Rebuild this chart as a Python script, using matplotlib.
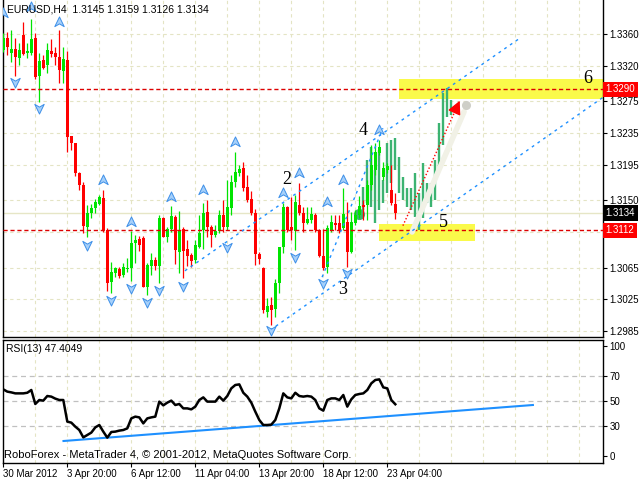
import matplotlib
matplotlib.use("Agg")
import matplotlib.pyplot as plt
import numpy as np
from matplotlib.path import Path
from matplotlib.patches import Rectangle
from matplotlib.transforms import blended_transform_factory

# ---------------- data ----------------
opens = [1.3340,1.3355,1.3336,1.3341,1.3330,1.3359,1.3336,1.3336,1.3355,1.3307,
         1.3327,1.3321,1.3339,1.3336,1.3331,1.3313,1.3327,1.3231,1.3222,1.3185,
         1.3169,1.3116,1.3134,1.3140,1.3145,1.3153,1.3113,1.3047,1.3058,1.3063,
         1.3056,1.3063,1.3065,1.3096,1.3101,1.3102,1.3041,1.3067,1.3075,1.3067,
         1.3128,1.3104,1.3114,1.3129,1.3085,1.3114,1.3089,1.3081,1.3075,1.3091,
         1.3113,1.3135,1.3116,1.3106,1.3111,1.3131,1.3116,1.3140,1.3173,1.3185,
         1.3191,1.3167,1.3152,1.3134,1.3082,1.3065,1.3009,1.3018,1.3013,1.3046,
         1.3091,1.3142,1.3116,1.3111,1.3144,1.3134,1.3121,1.3125,1.3131,1.3113,
         1.3080,1.3066,1.3111,1.3121,1.3121,1.3115,1.3123,1.3085,1.3121,1.3131,
         1.3144,1.3144,1.3169,1.3188,1.3210,1.3179,1.3188,1.3163,1.3145]
highs = [1.3361,1.3363,1.3365,1.3355,1.3349,1.3375,1.3349,1.3379,1.3361,1.3336,
         1.3334,1.3349,1.3354,1.3344,1.3365,1.3344,1.3339,1.3231,1.3222,1.3186,
         1.3173,1.3144,1.3145,1.3152,1.3157,1.3163,1.3115,1.3072,1.3066,1.3066,
         1.3071,1.3077,1.3111,1.3106,1.3105,1.3105,1.3071,1.3083,1.3078,1.3131,
         1.3129,1.3116,1.3143,1.3131,1.3137,1.3116,1.3100,1.3083,1.3100,1.3131,
         1.3147,1.3150,1.3119,1.3119,1.3138,1.3150,1.3176,1.3182,1.3211,1.3195,
         1.3198,1.3182,1.3162,1.3139,1.3085,1.3066,1.3027,1.3028,1.3051,1.3091,
         1.3147,1.3143,1.3154,1.3157,1.3172,1.3142,1.3142,1.3142,1.3134,1.3114,
         1.3114,1.3119,1.3131,1.3131,1.3131,1.3166,1.3148,1.3135,1.3138,1.3155,
         1.3150,1.3176,1.3220,1.3222,1.3226,1.3198,1.3197,1.3195,1.3159]
lows = [1.3337,1.3334,1.3325,1.3307,1.3321,1.3334,1.3330,1.3334,1.3303,1.3274,
        1.3316,1.3311,1.3331,1.3321,1.3298,1.3298,1.3211,1.3214,1.3181,1.3163,
        1.3109,1.3104,1.3128,1.3134,1.3144,1.3110,1.3035,1.3033,1.3053,1.3052,
        1.3053,1.3059,1.3048,1.3071,1.3086,1.3041,1.3030,1.3056,1.3062,1.3046,
        1.3104,1.3097,1.3110,1.3070,1.3058,1.3052,1.3067,1.3066,1.3071,1.3090,
        1.3089,1.3104,1.3091,1.3104,1.3109,1.3110,1.3113,1.3131,1.3167,1.3181,
        1.3162,1.3148,1.3131,1.3068,1.3070,1.3008,1.3003,1.2993,1.3003,1.3033,
        1.3083,1.3110,1.3100,1.3087,1.3131,1.3110,1.3120,1.3121,1.3110,1.3078,
        1.3062,1.3058,1.3110,1.3113,1.3109,1.3113,1.3066,1.3083,1.3119,1.3128,
        1.3125,1.3125,1.3163,1.3182,1.3207,1.3176,1.3185,1.3144,1.3126]
closes = [1.3355,1.3344,1.3341,1.3331,1.3340,1.3335,1.3339,1.3354,1.3306,1.3326,
          1.3317,1.3340,1.3335,1.3331,1.3315,1.3328,1.3230,1.3222,1.3185,1.3169,
          1.3118,1.3134,1.3140,1.3148,1.3154,1.3113,1.3046,1.3059,1.3065,1.3054,
          1.3066,1.3065,1.3096,1.3100,1.3094,1.3041,1.3068,1.3075,1.3067,1.3128,
          1.3104,1.3114,1.3130,1.3087,1.3111,1.3086,1.3080,1.3073,1.3094,1.3109,
          1.3134,1.3116,1.3106,1.3111,1.3131,1.3116,1.3142,1.3173,1.3186,1.3190,
          1.3166,1.3150,1.3134,1.3082,1.3076,1.3011,1.3017,1.3011,1.3046,1.3091,
          1.3142,1.3113,1.3113,1.3148,1.3134,1.3121,1.3126,1.3133,1.3113,1.3080,
          1.3065,1.3115,1.3123,1.3119,1.3113,1.3133,1.3085,1.3123,1.3131,1.3143,
          1.3142,1.3169,1.3195,1.3211,1.3217,1.3191,1.3193,1.3147,1.3134]

rsi = [59.3,57.5,56.9,56.1,56.1,56.1,56.6,58.8,47.6,50.8,
       50.3,54.0,53.5,51.9,50.8,50.8,33.5,32.7,29.5,26.8,
       20.9,22.8,24.7,28.9,30.8,25.5,20.7,25.2,25.5,26.3,
       26.8,28.1,36.1,37.5,36.9,32.1,36.1,36.9,37.5,49.5,
       46.5,48.7,50.3,46.8,47.6,44.1,44.1,43.3,45.5,50.8,
       52.9,49.5,49.5,49.5,53.5,50.3,54.0,60.1,62.8,63.3,
       56.6,53.5,48.7,41.5,34.8,30.8,30.8,31.1,34.8,44.1,
       56.1,52.9,52.1,56.6,54.0,53.5,54.0,53.5,50.8,44.1,
       42.3,50.8,52.1,52.1,50.8,54.8,45.5,51.3,54.8,55.6,
       56.1,58.8,64.1,66.8,67.3,60.9,60.1,50.8,47.4]

# projected (forecast) range bars, starting at bar index 90
fc_start = 90
fc_high = [1.3167,1.3201,1.3217,1.3188,1.3214,1.3176,1.3222,1.3226,1.3229,1.3205,
           1.3179,1.3166,1.3166,1.3185,1.3159,1.3197,1.3172,1.3172,1.3201,1.3248,
           1.3286,1.3292,1.3277]
fc_low = [1.3138,1.3147,1.3142,1.3121,1.3138,1.3147,1.3159,1.3172,1.3188,1.3159,
          1.3150,1.3142,1.3138,1.3129,1.3113,1.3128,1.3147,1.3142,1.3150,1.3188,
          1.3220,1.3255,1.3258]

# fractals
frac_up_idx = [0, 7, 14, 25, 32, 42, 50, 58, 70, 74, 81, 85, 94]
frac_up_px = [1.3387,1.3394,1.3375,1.3176,1.3123,1.3154,1.3163,1.3224,1.3159,1.3185,1.3148,1.3176,1.3239]
frac_dn_idx = [3, 9, 21, 27, 32, 36, 39, 45, 56, 67, 73, 80, 86]
frac_dn_px = [1.3299,1.3267,1.3094,1.3024,1.3039,1.3022,1.3037,1.3042,1.3091,1.2986,1.3078,1.3046,1.3058]

price_ticks = [1.3360,1.3320,1.3275,1.3235,1.3195,1.3150,1.3065,1.3025,1.2985]
date_ticks = [0, 16, 32, 48, 64, 80, 96]
date_labels = ["30 Mar 2012","3 Apr 20:00","6 Apr 12:00","11 Apr 04:00",
               "13 Apr 20:00","18 Apr 12:00","23 Apr 04:00"]

level_hi = 1.3290
level_lo = 1.3112
last_price = 1.3134

# wave labels (index, price, text)
wave_idx = [146.0, 89.9, 70.9, 84.9, 109.9]
wave_px = [1.3304, 1.3238, 1.3176, 1.3037, 1.3122]
wave_txt = ["6", "4", "2", "3", "5"]

# channel lines ((i0, p0), (i1, p1))
line_a = ((45.4, 1.3061), (129.2, 1.3355))
line_b = ((66.7, 1.2986), (149.9, 1.3280))
line_c = ((79.7, 1.3053), (94.9, 1.3241))
rsi_trend = ((15.05, 18.0), (132.4, 46.8))

# ---------------- figure ----------------
W, H = 640, 480
plt.rcParams['font.family'] = ['Liberation Sans', 'DejaVu Sans']
fig = plt.figure(figsize=(6.4, 4.8), dpi=100)
fig.patch.set_facecolor("white")

L, R = 2.5, 602.5
ax = fig.add_axes([L / W, 1 - 337 / H, (R - L) / W, 337 / H])
ax2 = fig.add_axes([L / W, 1 - 463 / H, (R - L) / W, (463 - 340) / H])

xlim = (-0.2, 149.8)
grid_c = "#e4e4c4"
for a in (ax, ax2):
    a.set_xlim(*xlim)
    a.set_facecolor("white")
    for s in a.spines.values():
        s.set_color("black")
        s.set_linewidth(1.0)
    for gx in range(8, 150, 8):
        a.axvline(gx, color=grid_c, lw=0.8, ls=(0, (3, 3)), zorder=0)

ax.spines['top'].set_visible(False)
ax.set_ylim(1.29774, 1.3403)

# horizontal grid
for p in price_ticks + [1.3110]:
    ax.axhline(p, color=grid_c, lw=0.8, ls=(0, (3, 3)), zorder=0)
ax.axhline(last_price, color="#e6e6c6", lw=1.0, zorder=0.5)

# yellow zones
ax.add_patch(Rectangle((99.0, 1.3278), 60, 1.3303 - 1.3278, facecolor="#fafa4a",
                       edgecolor="none", zorder=1))
ax.add_patch(Rectangle((93.9, 1.3099), 24.0, 1.3120 - 1.3099, facecolor="#fafa4a",
                       edgecolor="none", zorder=1))

# forecast bars
fx = np.arange(fc_start, fc_start + len(fc_high))
ax.vlines(fx, fc_low, fc_high, colors="#3cb371", lw=1.7, zorder=2)
ax.plot([88.9], [1.3133], marker="o", ms=7, color="#3cb371", zorder=2)

# candles
n = len(opens)
x = np.arange(n)
o = np.array(opens); c = np.array(closes); h = np.array(highs); l = np.array(lows)
cols = np.where(c >= o, "#00e400", "#ff0000")
ax.vlines(x, l, h, colors=cols, lw=0.9, zorder=3)
bottoms = np.minimum(o, c)
heights = np.maximum(np.abs(c - o), 0.00013)
ax.bar(x, heights, bottom=bottoms, width=0.72, color=cols, zorder=3.1, linewidth=0)

# levels
ax.axhline(level_hi, color="#dd0000", lw=1.0, ls=(0, (3, 2)), zorder=3.5)
ax.axhline(level_lo, color="#dd0000", lw=1.0, ls=(0, (3, 2)), zorder=3.5)

# channel lines
for (p0, p1) in (line_a, line_b, line_c):
    ax.plot([p0[0], p1[0]], [p0[1], p1[1]], color="#1e90ff", lw=1.0,
            ls=(0, (2, 3)), zorder=4)

# shadow arrow + red dotted arrow
ax.plot([102.2, 115.2], [1.3110, 1.3262], color="#f1f1e6", lw=4.0,
        solid_capstyle="round", zorder=3.6)
ax.plot([115.7], [1.3270], marker="o", ms=5.5, color="#cfcfc8", zorder=3.7)
ax.plot([99.9, 113.6], [1.3118, 1.3270], color="red", lw=1.0, ls=(0, (1, 1.5)), zorder=4.5)
ax.annotate("", xy=(114.4, 1.3279), xytext=(112.6, 1.3259),
            arrowprops=dict(arrowstyle="-|>,head_length=0.9,head_width=0.45",
                            color="red", lw=1.0, mutation_scale=9), zorder=4.6)

# fractal arrows
up_path = Path([(0, 1), (0.85, -0.75), (0, -0.25), (-0.85, -0.75), (0, 1)],
               [Path.MOVETO, Path.LINETO, Path.LINETO, Path.LINETO, Path.CLOSEPOLY])
dn_path = Path([(0, -1), (0.85, 0.75), (0, 0.25), (-0.85, 0.75), (0, -1)],
               [Path.MOVETO, Path.LINETO, Path.LINETO, Path.LINETO, Path.CLOSEPOLY])
ax.plot(frac_up_idx, frac_up_px, ls="none", marker=up_path, ms=8,
        mfc="#a6d0fa", mec="#3d8fe8", mew=0.7, zorder=5)
ax.plot(frac_dn_idx, frac_dn_px, ls="none", marker=dn_path, ms=8,
        mfc="#a6d0fa", mec="#3d8fe8", mew=0.7, zorder=5)

# wave labels
for wi, wp, wt in zip(wave_idx, wave_px, wave_txt):
    ax.text(wi, wp, wt, ha="center", va="center", fontsize=13,
            family="Liberation Serif", color="black", zorder=6)

# price axis
ax.yaxis.tick_right()
ax.set_yticks(price_ticks)
ax.set_yticklabels([f"{p:.4f}" for p in price_ticks])
ax.tick_params(axis="y", labelsize=7, length=3, pad=2, direction="out", colors="black")
ax.set_xticks([])

# price boxes
tr = blended_transform_factory(ax.transAxes, ax.transData)
bx = 1.0 + 3.0 / (R - L)
for p, fc in ((level_hi, "#ff0000"), (last_price, "#000000"), (level_lo, "#ff0000")):
    ax.text(bx, p, f"{p:.4f}", transform=tr, ha="left", va="center", fontsize=7,
            color="white", zorder=10, clip_on=False,
            bbox=dict(boxstyle="square,pad=0.3", facecolor=fc, edgecolor="none"))

# RSI panel
ax2.set_ylim(0.4, 98.8)
for lv in (30, 50, 70):
    ax2.axhline(lv, color="#c0c0c0", lw=0.9, ls=(0, (4, 3)), zorder=0.5)
ax2.plot(x, rsi, color="black", lw=1.8, zorder=3)
ax2.plot([rsi_trend[0][0], rsi_trend[1][0]], [rsi_trend[0][1], rsi_trend[1][1]],
         color="#1e90ff", lw=1.5, zorder=2)
ax2.yaxis.tick_right()
ax2.set_yticks([6, 30, 50, 70, 94])
ax2.set_yticklabels(["0", "30", "50", "70", "100"])
ax2.tick_params(axis="y", labelsize=7, length=3, pad=2, colors="black")
ax2.set_xticks(date_ticks)
ax2.set_xticklabels(date_labels, ha="left")
ax2.tick_params(axis="x", labelsize=7, length=3, pad=1, colors="black")

# texts
fig.text(7 / W, 1 - 10 / H, "EURUSD,H4  1.3145 1.3159 1.3126 1.3134", fontsize=7.5,
         va="center", ha="left", color="black")
fig.text(6 / W, 1 - 349 / H, "RSI(13) 47.4049", fontsize=7.5, va="center", ha="left",
         color="black")
fig.text(4 / W, 1 - 455 / H,
         "RoboForex - MetaTrader 4, \u00a9 2001-2012, MetaQuotes Software Corp.",
         fontsize=8, va="center", ha="left", color="black")

fig.savefig("out.png", dpi=100, facecolor="white")
